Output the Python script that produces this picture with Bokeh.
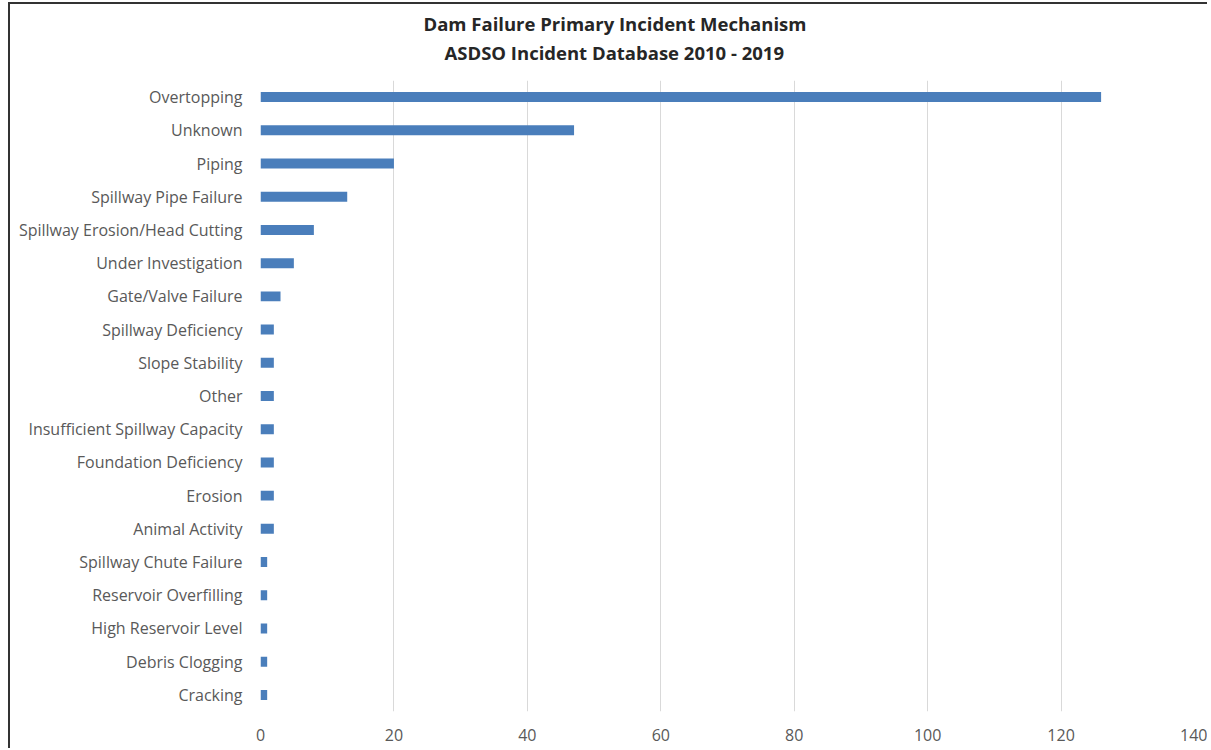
from bokeh.plotting import figure
from bokeh.models import Title, FactorRange, Range1d, FixedTicker
from bokeh.embed import file_html
from bokeh.resources import INLINE

categories = [
    "Overtopping", "Unknown", "Piping", "Spillway Pipe Failure",
    "Spillway Erosion/Head Cutting", "Under Investigation", "Gate/Valve Failure",
    "Spillway Deficiency", "Slope Stability", "Other",
    "Insufficient Spillway Capacity", "Foundation Deficiency", "Erosion",
    "Animal Activity", "Spillway Chute Failure", "Reservoir Overfilling",
    "High Reservoir Level", "Debris Clogging", "Cracking",
]
counts = [126, 47, 20, 13, 8, 5, 3, 2, 2, 2, 2, 2, 2, 2, 1, 1, 1, 1, 1]
x_ticks = [0, 20, 40, 60, 80, 100, 120, 140]
title_lines = ["Dam Failure Primary Incident Mechanism",
               "ASDSO Incident Database 2010 - 2019"]

FONT = "Open Sans"
W, H = 1199, 746

p = figure(
    width=W, height=H,
    y_range=FactorRange(factors=list(reversed(categories)), range_padding=0),
    x_range=Range1d(0, 140),
    output_backend="svg", toolbar_location=None,
    min_border_left=250, min_border_right=15,
    min_border_top=76, min_border_bottom=39,
)
p.styles = {"margin-left": "8px", "margin-top": "2px",
            "border-left": "2px solid #333333", "border-top": "2px solid #333333"}

p.hbar(y=categories, right=counts, left=0, height=0.3,
       fill_color="#4a7ebb", line_color=None)

p.outline_line_color = None
p.background_fill_color = "white"
p.border_fill_color = "white"

p.xaxis.ticker = FixedTicker(ticks=x_ticks)
p.xaxis.axis_line_color = None
p.xaxis.major_tick_line_color = None
p.xaxis.minor_tick_line_color = None
p.xaxis.major_tick_out = 0
p.xaxis.major_label_standoff = 17
p.xaxis.major_label_text_font = FONT
p.xaxis.major_label_text_font_size = "16px"
p.xaxis.major_label_text_color = "#595959"

p.yaxis.axis_line_color = None
p.yaxis.major_tick_line_color = None
p.yaxis.minor_tick_line_color = None
p.yaxis.major_tick_out = 0
p.yaxis.major_label_standoff = 18
p.yaxis.major_label_text_font = FONT
p.yaxis.major_label_text_font_size = "16px"
p.yaxis.major_label_text_color = "#595959"

p.xgrid.grid_line_color = "#d9d9d9"
p.xgrid.grid_line_width = 1
p.ygrid.grid_line_color = None

# spacer panel next to the frame, then line 2, then line 1
p.add_layout(Title(text=" ", text_font_size="1px", standoff=12), "above")
for txt, off in [(title_lines[1], 184), (title_lines[0], 163)]:
    p.add_layout(Title(
        text=txt, align="left", offset=off, standoff=2,
        text_font=FONT, text_font_style="bold", text_font_size="18.5px",
        text_color="#262626",
    ), "above")

open("out.html", "w").write(file_html(p, INLINE))
